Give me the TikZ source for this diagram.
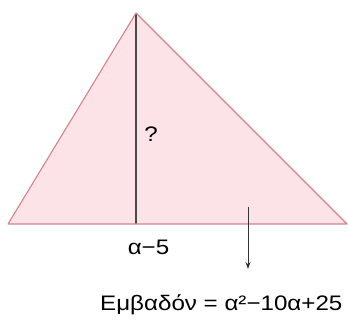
\documentclass[tikz,border=0pt]{standalone}
\usepackage{fontspec}
\setmainfont[FakeStretch=1.15]{Liberation Sans}
\usetikzlibrary{arrows.meta}
\definecolor{trifill}{HTML}{FCE3E8}
\definecolor{triedge}{HTML}{D7808F}
\definecolor{linegray}{HTML}{4A4A4A}
\begin{document}
\begin{tikzpicture}[x=1pt,y=-1pt,
  lbl/.style={inner sep=0pt,anchor=base,font=\fontsize{21}{25}\selectfont},
  hline/.style={draw=linegray,line width=1.1pt},
  arr/.style={draw=black!80,line width=0.9pt,-{Stealth[length=7pt,width=5pt]}}]
\useasboundingbox (0,0) rectangle (348,320);
\coordinate (A) at (8,224);
\coordinate (B) at (136,13);
\coordinate (C) at (347,224);
\coordinate (H) at (136,224);
\fill[trifill] (A) -- (B) -- (C) -- cycle;
\draw[hline] (B) -- (H);
\draw[triedge,line width=1.1pt,line join=round] (A) -- (B) -- (C) -- cycle;
\node[lbl] (q) at (151,142) {?};
\node[lbl] (base) at (148.5,255) {α−5};
\coordinate (a1) at (248,207);
\coordinate (a2) at (248,269);
\draw[arr] (a1) -- (a2);
\node[lbl,anchor=base west] (area) at (100,310) {Εμβαδόν = α²−10α+25};
\end{tikzpicture}
\end{document}
